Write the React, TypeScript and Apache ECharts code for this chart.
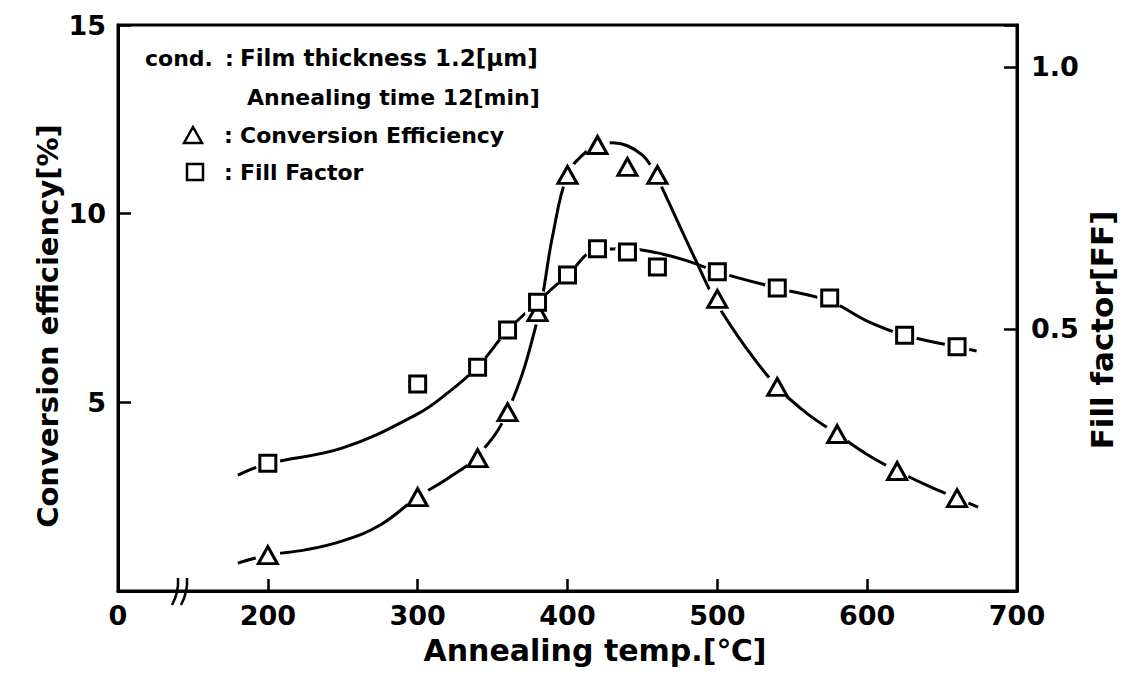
import React, { useEffect, useRef } from 'react';
import * as echarts from 'echarts';

// ---- data ----
const ceTemps = [200, 300, 340, 360, 380, 400, 420, 440, 460, 500, 540, 580, 620, 660];
const ceValues = [0.95, 2.49, 3.52, 4.74, 7.39, 11.03, 11.82, 11.24, 11.03, 7.74, 5.41, 4.16, 3.18, 2.46];

const ffTemps = [200, 300, 340, 360, 380, 400, 420, 440, 460, 500, 540, 575, 625, 660];
const ffValues = [0.244, 0.395, 0.427, 0.498, 0.551, 0.603, 0.653, 0.647, 0.618, 0.609, 0.578, 0.559, 0.488, 0.466];

// hand-drawn fitted curves
const ceCurveTemps = [180, 200, 225, 250, 275, 300, 320, 340, 360, 380, 390, 400, 410, 420, 430, 440, 450, 456, 460, 486, 500, 520, 540, 560, 580, 600, 620, 640, 660, 674];
const ceCurveValues = [0.74, 0.95, 1.09, 1.33, 1.75, 2.49, 2.98, 3.58, 4.75, 7.2, 9.4, 11.05, 11.55, 11.82, 11.88, 11.8, 11.55, 11.25, 10.95, 8.73, 7.6, 6.4, 5.41, 4.7, 4.16, 3.62, 3.18, 2.8, 2.46, 2.22];

const ffCurveTemps = [180, 200, 250, 300, 320, 340, 360, 380, 400, 420, 440, 460, 480, 500, 540, 575, 600, 625, 660, 673];
const ffCurveValues = [0.221, 0.243, 0.273, 0.338, 0.378, 0.428, 0.497, 0.551, 0.603, 0.651, 0.653, 0.645, 0.63, 0.609, 0.578, 0.553, 0.515, 0.488, 0.466, 0.458];

const xTicks = { min: 100, max: 700, interval: 100 }; // 100 is drawn as "0" (broken axis)
const leftTicks = { min: 0, max: 15, interval: 5 };
const rightTicks = { min: 0, max: 1.08, interval: 0.5 };

const legendLines = {
  cond: 'cond.',
  film: 'Film thickness 1.2[μm]',
  time: 'Annealing time 12[min]',
  ce: 'Conversion Efficiency',
  ff: 'Fill Factor',
};

const FONT = '"DejaVu Sans", "Liberation Sans", Arial, sans-serif';

const zip = (a: number[], b: number[]) => a.map((v, i) => [v, b[i]]);

export default function App() {
  const ref = useRef<HTMLDivElement>(null);

  useEffect(() => {
    document.body.style.margin = '0';
    const chart = echarts.init(ref.current!, null, { renderer: 'svg' });

    const txt = (text: string, x: number, y: number, size: number, extra: any = {}) => ({
      type: 'text',
      x,
      y,
      rotation: extra.rotation || 0,
      z: 100,
      style: {
        text,
        fill: '#000',
        fontSize: size,
        fontWeight: 'bold',
        fontFamily: FONT,
        textAlign: extra.align || 'left',
        textVerticalAlign: 'middle',
      },
    });

    const axisLabelBase = {
      color: '#000',
      fontSize: 27,
      fontWeight: 'bold',
      fontFamily: FONT,
    };

    const option: any = {
      animation: false,
      backgroundColor: '#fff',
      grid: {
        left: 118,
        right: 121,
        top: 25,
        bottom: 91,
        show: true,
        borderColor: '#000',
        borderWidth: 3,
        backgroundColor: 'transparent',
      },
      xAxis: {
        type: 'value',
        min: xTicks.min,
        max: xTicks.max,
        interval: xTicks.interval,
        splitLine: { show: false },
        axisLine: { lineStyle: { color: '#000', width: 3 } },
        axisTick: { inside: true, length: 12, lineStyle: { color: '#000', width: 2.5 } },
        axisLabel: {
          ...axisLabelBase,
          margin: 11,
          formatter: (v: number) => (v === 100 ? '0' : String(v)),
        },
      },
      yAxis: [
        {
          type: 'value',
          min: leftTicks.min,
          max: leftTicks.max,
          interval: leftTicks.interval,
          splitLine: { show: false },
          axisLine: { lineStyle: { color: '#000', width: 3 } },
          axisTick: { inside: true, length: 13, lineStyle: { color: '#000', width: 2.5 } },
          axisLabel: {
            ...axisLabelBase,
            margin: 12,
            formatter: (v: number) => (v === 0 ? '' : String(v)),
          },
        },
        {
          type: 'value',
          position: 'right',
          min: rightTicks.min,
          max: rightTicks.max,
          interval: rightTicks.interval,
          splitLine: { show: false },
          axisLine: { lineStyle: { color: '#000', width: 3 } },
          axisTick: { inside: true, length: 13, lineStyle: { color: '#000', width: 2.5 } },
          axisLabel: {
            ...axisLabelBase,
            margin: 14,
            formatter: (v: number) =>
              Math.abs(v - 0.5) < 1e-9 || Math.abs(v - 1) < 1e-9 ? v.toFixed(1) : '',
          },
        },
      ],
      series: [
        {
          name: 'Conversion Efficiency curve',
          type: 'line',
          yAxisIndex: 0,
          data: zip(ceCurveTemps, ceCurveValues),
          smooth: 0.4,
          symbol: 'none',
          lineStyle: { color: '#000', width: 3 },
          z: 2,
          silent: true,
        },
        {
          name: 'Fill Factor curve',
          type: 'line',
          yAxisIndex: 1,
          data: zip(ffCurveTemps, ffCurveValues),
          smooth: 0.4,
          symbol: 'none',
          lineStyle: { color: '#000', width: 3 },
          z: 2,
          silent: true,
        },
        {
          name: 'ce-mask',
          type: 'scatter',
          yAxisIndex: 0,
          data: zip(ceTemps, ceValues),
          symbol: 'circle',
          symbolSize: 25,
          itemStyle: { color: '#fff', opacity: 1 },
          z: 3,
          silent: true,
        },
        {
          name: 'ff-mask',
          type: 'scatter',
          yAxisIndex: 1,
          data: zip(ffTemps, ffValues),
          symbol: 'circle',
          symbolSize: 25,
          itemStyle: { color: '#fff', opacity: 1 },
          z: 3,
          silent: true,
        },
        {
          name: 'Conversion Efficiency',
          type: 'scatter',
          yAxisIndex: 0,
          data: zip(ceTemps, ceValues),
          symbol: 'triangle',
          symbolSize: [19, 17],
          itemStyle: { color: '#fff', borderColor: '#000', borderWidth: 3, opacity: 1 },
          z: 4,
        },
        {
          name: 'Fill Factor',
          type: 'scatter',
          yAxisIndex: 1,
          data: zip(ffTemps, ffValues),
          symbol: 'rect',
          symbolSize: 16,
          itemStyle: { color: '#fff', borderColor: '#000', borderWidth: 3, opacity: 1 },
          z: 4,
        },
      ],
      graphic: [
        // axis titles
        txt('Conversion efficiency[%]', 48, 326, 29, { rotation: Math.PI / 2, align: 'center' }),
        txt('Fill factor[FF]', 1102, 330, 31, { rotation: Math.PI / 2, align: 'center' }),
        txt('Annealing temp.[℃]', 595, 650, 30, { align: 'center' }),
        // condition / legend block
        txt(legendLines.cond, 145, 58, 22),
        txt(':', 225, 58, 22),
        txt(legendLines.film, 240, 58, 23),
        txt(legendLines.time, 247, 97, 22),
        txt(':', 224, 135, 22),
        txt(legendLines.ce, 240, 135, 22),
        txt(':', 224, 172, 22),
        txt(legendLines.ff, 240, 172, 22),
        {
          type: 'polygon',
          z: 100,
          shape: { points: [[193, 127], [202, 143], [184, 143]] },
          style: { fill: '#fff', stroke: '#000', lineWidth: 2.5 },
        },
        {
          type: 'rect',
          z: 100,
          shape: { x: 187, y: 164, width: 16, height: 16 },
          style: { fill: '#fff', stroke: '#000', lineWidth: 2.5 },
        },
        // axis break mark
        {
          type: 'bezierCurve',
          z: 100,
          shape: { x1: 172, y1: 605, x2: 178, y2: 578, cpx1: 179, cpy1: 592 },
          style: { stroke: '#000', lineWidth: 2.5, fill: 'none' },
        },
        {
          type: 'bezierCurve',
          z: 100,
          shape: { x1: 181, y1: 605, x2: 187, y2: 578, cpx1: 188, cpy1: 592 },
          style: { stroke: '#000', lineWidth: 2.5, fill: 'none' },
        },
      ],
    };

    chart.setOption(option);
    return () => chart.dispose();
  }, []);

  return <div ref={ref} style={{ width: 1138, height: 682, background: '#fff' }} />;
}
